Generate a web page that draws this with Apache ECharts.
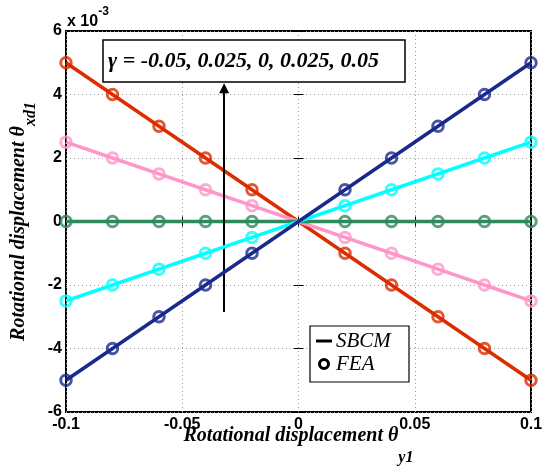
<!DOCTYPE html>
<html>
<head>
<meta charset="utf-8">
<script src="https://cdn.jsdelivr.net/npm/echarts@6/dist/echarts.min.js"></script>
<style>
  html, body { margin: 0; padding: 0; background: #ffffff; }
  #chart { width: 547px; height: 471px; }
</style>
</head>
<body>
<div id="chart"></div>
<script>
// Rotational displacement θy1 (abscissa)
const thetaY1 = [-0.1, -0.08, -0.06, -0.04, -0.02, 0, 0.02, 0.04, 0.06, 0.08, 0.1];

// Rotational displacement θxd1, in units of 1e-3, one array per γ
const gammaNeg005 = [5, 4, 3, 2, 1, 0, -1, -2, -3, -4, -5];
const gammaNeg0025 = [2.5, 2, 1.5, 1, 0.5, 0, -0.5, -1, -1.5, -2, -2.5];
const gammaZero = [0, 0, 0, 0, 0, 0, 0, 0, 0, 0, 0];
const gammaPos0025 = [-2.5, -2, -1.5, -1, -0.5, 0, 0.5, 1, 1.5, 2, 2.5];
const gammaPos005 = [-5, -4, -3, -2, -1, 0, 1, 2, 3, 4, 5];

const curves = [gammaNeg005, gammaNeg0025, gammaZero, gammaPos0025, gammaPos005];
const curveColors = ['#dc2c00', '#ff96c8', '#2e8a5a', '#00ffff', '#1a2a8c'];

// FEA samples are taken at every θy1 except the origin
const feaIndices = [0, 1, 2, 3, 4, 6, 7, 8, 9, 10];

const xTickLabels = { '-0.1': '-0.1', '-0.05': '-0.05', '0': '0', '0.05': '0.05', '0.1': '0.1' };
const annotationText = 'γ = -0.05, 0.025, 0, 0.025, 0.05';
const xTitle = '{a|Rotational displacement θ}{s|y1}';
const yTitle = '{a|Rotational displacement θ}{s|xd1}';

const tickFont = { color: '#000', fontFamily: 'Liberation Sans', fontWeight: 'bold', fontSize: 16 };
const serifBI = { fontFamily: 'Liberation Serif', fontStyle: 'italic', fontWeight: 'bold', fill: '#000' };
const xTitleRich = {
  a: Object.assign({ fontSize: 20, lineHeight: 24, verticalAlign: 'top' }, serifBI),
  s: Object.assign({ fontSize: 16, lineHeight: 18, padding: [24, 0, 0, 0], verticalAlign: 'top' }, serifBI)
};
const yTitleRich = {
  a: Object.assign({ fontSize: 20, lineHeight: 24, verticalAlign: 'top' }, serifBI),
  s: Object.assign({ fontSize: 16, lineHeight: 18, padding: [14, 0, 0, 0], verticalAlign: 'top' }, serifBI)
};
const gridDots = { show: true, lineStyle: { color: '#9a9a9a', width: 1, type: [1, 3] } };
const innerTicks = { show: true, inside: true, length: 5, lineStyle: { color: '#000', width: 1 } };

const series = [];
curves.forEach((vals, k) => {
  series.push({
    name: 'SBCM',
    type: 'line',
    data: thetaY1.map((x, i) => [x, vals[i]]),
    showSymbol: false,
    symbol: 'none',
    lineStyle: { color: curveColors[k], width: 3.5 },
    itemStyle: { color: curveColors[k] },
    z: 2 + k,
    silent: true,
    animation: false
  });
});
curves.forEach((vals, k) => {
  series.push({
    name: 'FEA',
    type: 'scatter',
    data: feaIndices.map(i => [thetaY1[i], vals[i]]),
    symbol: 'circle',
    symbolSize: 10.5,
    itemStyle: { color: 'rgba(255,255,255,0)', borderColor: curveColors[k], borderWidth: 3 },
    z: 10 + k,
    silent: true,
    animation: false
  });
});
// Arrow pointing in the direction of increasing γ
series[0].markLine = {
  silent: true,
  animation: false,
  symbol: ['none', 'triangle'],
  symbolSize: 10,
  label: { show: false },
  lineStyle: { color: '#000', width: 2, type: 'solid' },
  data: [[{ coord: [-0.032, -2.85] }, { coord: [-0.032, 4.2] }]]
};

const option = {
  animation: false,
  backgroundColor: '#ffffff',
  grid: {
    left: 66, right: 16, top: 31, bottom: 59,
    outerBoundsMode: 'none',
    show: true, borderColor: '#000', borderWidth: 2, backgroundColor: '#fff'
  },
  xAxis: [
    {
      type: 'value', min: -0.1, max: 0.1, interval: 0.05, position: 'bottom',
      axisLine: { show: false },
      axisTick: innerTicks,
      axisLabel: Object.assign({ margin: 5, formatter: v => xTickLabels[String(Math.round(v * 100) / 100)] || '' }, tickFont),
      splitLine: gridDots
    },
    {
      type: 'value', min: -0.1, max: 0.1, interval: 0.05, position: 'top',
      axisLine: { show: false }, axisTick: innerTicks,
      axisLabel: { show: false }, splitLine: { show: false }
    }
  ],
  yAxis: [
    {
      type: 'value', min: -6, max: 6, interval: 2, position: 'left',
      axisLine: { show: false },
      axisTick: innerTicks,
      axisLabel: Object.assign({ margin: 4 }, tickFont),
      splitLine: gridDots
    },
    {
      type: 'value', min: -6, max: 6, interval: 2, position: 'right',
      axisLine: { show: false }, axisTick: innerTicks,
      axisLabel: { show: false }, splitLine: { show: false }
    }
  ],
  series: series,
  graphic: [
    // axis titles
    {
      type: 'text', silent: true, x: 298.5, y: 425.5,
      style: { text: xTitle, rich: xTitleRich, align: 'center', verticalAlign: 'top' }
    },
    {
      type: 'text', silent: true, x: 8.5, y: 221.5, rotation: Math.PI / 2,
      style: { text: yTitle, rich: yTitleRich, align: 'center', verticalAlign: 'top' }
    },
    // axis multiplier
    {
      type: 'text', left: 67, top: 6, silent: true,
      style: {
        text: '{m|x 10}{e|-3}',
        rich: {
          m: { fontFamily: 'Liberation Sans', fontWeight: 'bold', fontSize: 16, lineHeight: 24, verticalAlign: 'bottom', fill: '#000' },
          e: { fontFamily: 'Liberation Sans', fontWeight: 'bold', fontSize: 12, lineHeight: 24, verticalAlign: 'top', padding: [0, 0, 10, 0], fill: '#000' }
        }
      }
    },
    // γ annotation box
    {
      type: 'rect', silent: true, z: 50,
      shape: { x: 103, y: 40, width: 302, height: 42 },
      style: { fill: '#fff', stroke: '#000', lineWidth: 1.5 }
    },
    {
      type: 'text', silent: true, z: 51, x: 108, y: 61,
      style: {
        text: annotationText, fill: '#000',
        font: 'italic bold 22px "Liberation Serif"',
        verticalAlign: 'middle'
      }
    },
    // legend box
    {
      type: 'rect', silent: true, z: 50,
      shape: { x: 310, y: 326, width: 99, height: 56 },
      style: { fill: '#fff', stroke: '#000', lineWidth: 1.2 }
    },
    {
      type: 'line', silent: true, z: 51,
      shape: { x1: 316, y1: 341, x2: 332, y2: 341 },
      style: { stroke: '#000', lineWidth: 3 }
    },
    {
      type: 'circle', silent: true, z: 51,
      shape: { cx: 324, cy: 364, r: 4.5 },
      style: { fill: 'none', stroke: '#000', lineWidth: 3 }
    },
    {
      type: 'text', silent: true, z: 51, x: 336, y: 341,
      style: { text: 'SBCM', fill: '#000', font: 'italic 21px "Liberation Serif"', verticalAlign: 'middle' }
    },
    {
      type: 'text', silent: true, z: 51, x: 336, y: 364,
      style: { text: 'FEA', fill: '#000', font: 'italic 21px "Liberation Serif"', verticalAlign: 'middle' }
    }
  ]
};

const chart = echarts.init(document.getElementById('chart'), null, { renderer: 'canvas' });
chart.setOption(option);
</script>
</body>
</html>
